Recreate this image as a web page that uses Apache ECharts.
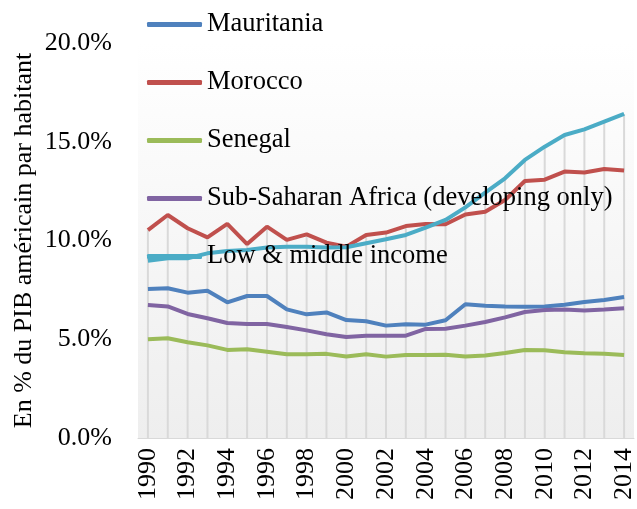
<!DOCTYPE html>
<html lang="fr">
<head>
  <meta charset="utf-8">
  <title>PIB par habitant</title>
  <script src="https://cdn.jsdelivr.net/npm/echarts@6/dist/echarts.min.js"></script>
  <style>
    html, body { margin: 0; padding: 0; background: #fff; }
    #chart { width: 637px; height: 509px; }
  </style>
</head>
<body>
  <div id="chart"></div>
  <script>
    // années
    var years = ['1990', '1991', '1992', '1993', '1994', '1995', '1996', '1997', '1998', '1999',
      '2000', '2001', '2002', '2003', '2004', '2005', '2006', '2007', '2008', '2009',
      '2010', '2011', '2012', '2013', '2014'];

    // en % du PIB américain par habitant
    var mauritania = [7.54, 7.58, 7.36, 7.46, 6.87, 7.19, 7.19, 6.51, 6.26, 6.36,
      5.97, 5.91, 5.69, 5.76, 5.74, 5.96, 6.77, 6.70, 6.66, 6.65,
      6.66, 6.75, 6.89, 6.99, 7.14];
    var morocco = [10.53, 11.29, 10.62, 10.16, 10.84, 9.82, 10.70, 10.03, 10.31, 9.89,
      9.69, 10.28, 10.40, 10.73, 10.84, 10.82, 11.32, 11.46, 12.05, 13.01,
      13.08, 13.49, 13.44, 13.62, 13.54];
    var senegal = [5.00, 5.05, 4.85, 4.69, 4.46, 4.49, 4.37, 4.24, 4.24, 4.26,
      4.13, 4.24, 4.12, 4.20, 4.20, 4.22, 4.13, 4.18, 4.30, 4.46,
      4.44, 4.34, 4.29, 4.26, 4.20];
    var subSaharan = [6.73, 6.66, 6.28, 6.06, 5.82, 5.77, 5.77, 5.62, 5.45, 5.25,
      5.11, 5.18, 5.18, 5.18, 5.52, 5.53, 5.69, 5.87, 6.11, 6.38,
      6.48, 6.51, 6.46, 6.51, 6.57];
    var lowMiddle = [8.98, 9.10, 9.10, 9.35, 9.47, 9.52, 9.65, 9.68, 9.68, 9.65,
      9.66, 9.86, 10.06, 10.28, 10.65, 11.04, 11.68, 12.42, 13.15, 14.08,
      14.75, 15.34, 15.63, 16.02, 16.41];

    var seriesNames = ['Mauritania', 'Morocco', 'Senegal',
      'Sub-Saharan Africa (developing only)', 'Low & middle income'];
    var seriesColors = ['#4f81bd', '#c0504d', '#9bbb59', '#8064a2', '#4bacc6'];
    var seriesData = [mauritania, morocco, senegal, subSaharan, lowMiddle];

    // lignes de projection : du point le plus haut jusqu'à l'axe
    var dropLines = years.map(function (y, i) {
      return Math.max.apply(null, seriesData.map(function (d) { return d[i]; }));
    });

    var font = 'Liberation Serif, Times New Roman, serif';

    var chart = echarts.init(document.getElementById('chart'));

    var series = [{
      type: 'bar',
      name: 'drop',
      data: dropLines,
      barWidth: 2,
      itemStyle: { color: '#d9d9d9' },
      silent: true,
      z: 1
    }];
    seriesNames.forEach(function (name, i) {
      series.push({
        type: 'line',
        name: name,
        data: seriesData[i],
        symbol: 'none',
        lineStyle: { color: seriesColors[i], width: 4 },
        itemStyle: { color: seriesColors[i] },
        z: 3
      });
    });

    chart.setOption({
      animation: false,
      textStyle: { fontFamily: font },
      grid: {
        left: 138,
        right: 3,
        top: 43,
        bottom: 71,
        outerBoundsMode: 'none',
        show: true,
        borderWidth: 0,
        backgroundColor: {
          type: 'linear', x: 0, y: 0, x2: 0, y2: 1,
          colorStops: [
            { offset: 0, color: '#ffffff' },
            { offset: 1, color: '#eeeeee' }
          ]
        }
      },
      legend: {
        data: seriesNames,
        orient: 'vertical',
        left: 142,
        top: 6,
        icon: 'roundRect',
        itemWidth: 55,
        itemHeight: 5,
        itemGap: 31,
        textStyle: { fontFamily: font, fontSize: 26.5, color: '#000', lineHeight: 26 }
      },
      xAxis: {
        type: 'category',
        data: years,
        boundaryGap: true,
        axisLine: { lineStyle: { color: '#d9d9d9', width: 1 } },
        axisTick: { show: false },
        splitLine: { show: false },
        axisLabel: {
          interval: 1,
          rotate: 90,
          margin: 10,
          fontFamily: font,
          fontSize: 26,
          color: '#000'
        }
      },
      yAxis: {
        type: 'value',
        min: 0,
        max: 20,
        interval: 5,
        name: 'En % du PIB américain par habitant',
        nameLocation: 'middle',
        nameGap: 101,
        nameMoveOverlap: false,
        nameTextStyle: { fontFamily: font, fontSize: 26, color: '#000' },
        axisLine: { show: false },
        axisTick: { show: false },
        splitLine: { show: false },
        axisLabel: {
          margin: 26,
          fontFamily: font,
          fontSize: 26,
          color: '#000',
          formatter: function (v) { return v.toFixed(1) + '%'; }
        }
      },
      series: series
    });

    window.onresize = function () {
      chart.resize();
    };
  </script>
</body>
</html>
